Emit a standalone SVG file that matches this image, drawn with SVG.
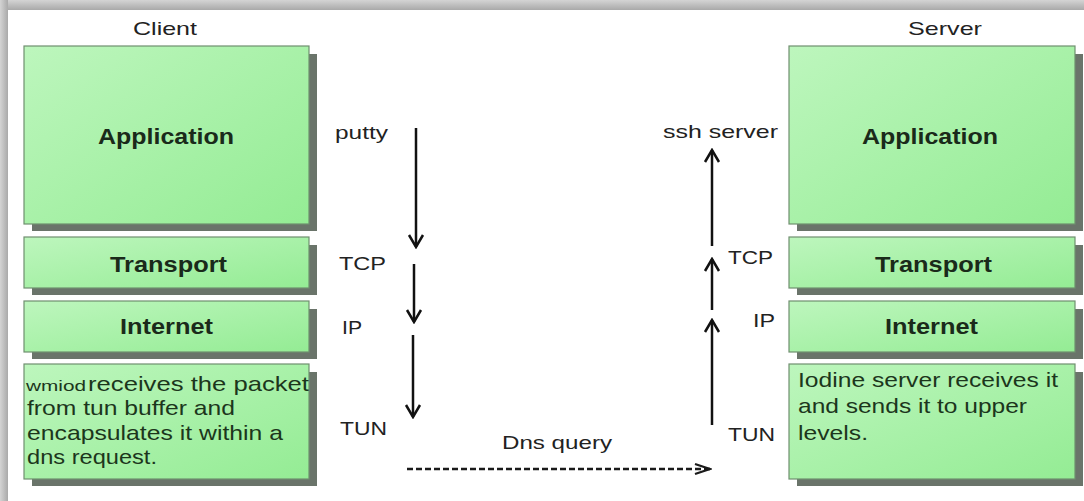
<svg xmlns="http://www.w3.org/2000/svg" width="1084" height="501" viewBox="0 0 1084 501">
<style>
.box{stroke:#6f8f6f;stroke-width:1.2;fill:url(#g)}
.sh{fill:#6a746a}
.lbl{font-family:"Liberation Sans",Arial,sans-serif;font-weight:bold;font-size:22px;fill:#1a2a1a}
.body{font-family:"Liberation Sans",Arial,sans-serif;font-size:21px;fill:#1c361c}
.out{font-family:"Liberation Sans",Arial,sans-serif;font-size:19px;fill:#222}
.arr{stroke:#111;stroke-width:2.5;fill:none;marker-end:url(#ah)}
.dash{stroke:#1a1a1a;stroke-width:2.3;fill:none;stroke-dasharray:6 3;marker-end:url(#dh)}
</style>
<defs>
<linearGradient id="g" x1="0" y1="0" x2="1" y2="1">
<stop offset="0" stop-color="#bdf6bd"/>
<stop offset="1" stop-color="#94ec94"/>
</linearGradient>
<linearGradient id="gt" x1="0" y1="0" x2="0" y2="1">
<stop offset="0" stop-color="#d4d4d4"/>
<stop offset="1" stop-color="#a9a9a9"/>
</linearGradient>
<linearGradient id="gl" x1="0" y1="0" x2="1" y2="0">
<stop offset="0" stop-color="#d4d4d4"/>
<stop offset="1" stop-color="#a9a9a9"/>
</linearGradient>
<marker id="ah" markerUnits="userSpaceOnUse" viewBox="-15 -10 17 20" refX="0" refY="0" markerWidth="17" markerHeight="20" orient="auto">
<path d="M-12,-7 L0,0 L-12,7" fill="none" stroke="#111" stroke-width="2.5"/>
</marker>
<marker id="dh" markerUnits="userSpaceOnUse" viewBox="-18 -8 20 16" refX="0" refY="0" markerWidth="20" markerHeight="16" orient="auto">
<path d="M-15,-5 L0,0 L-15,5" fill="none" stroke="#1a1a1a" stroke-width="2.3" stroke-dasharray="none"/>
</marker>
</defs>
<rect x="0" y="0" width="1084" height="501" fill="#fff"/>
<rect x="0" y="0" width="1084" height="10" fill="url(#gt)"/>
<rect x="0" y="0" width="8" height="501" fill="url(#gl)"/>

<text class="out" x="133" y="35" textLength="64" lengthAdjust="spacingAndGlyphs">Client</text>
<text class="out" x="908" y="35" textLength="74" lengthAdjust="spacingAndGlyphs">Server</text>

<g id="client-application">
<rect class="sh" x="32" y="54" width="285" height="177"/>
<rect class="box" x="24" y="46" width="285" height="178"/>
<text class="lbl" x="98" y="144" textLength="136" lengthAdjust="spacingAndGlyphs">Application</text>
</g>
<g id="client-transport">
<rect class="sh" x="32" y="245" width="285" height="50"/>
<rect class="box" x="24" y="237" width="285" height="51"/>
<text class="lbl" x="110" y="272" textLength="117" lengthAdjust="spacingAndGlyphs">Transport</text>
</g>
<g id="client-internet">
<rect class="sh" x="32" y="309" width="285" height="50"/>
<rect class="box" x="24" y="301" width="285" height="51"/>
<text class="lbl" x="120" y="334" textLength="93" lengthAdjust="spacingAndGlyphs">Internet</text>
</g>
<g id="client-tun">
<rect class="sh" x="32" y="372" width="285" height="114"/>
<rect class="box" x="24" y="364" width="285" height="115"/>
<text class="body" x="26" y="391" style="font-size:15px" textLength="60" lengthAdjust="spacingAndGlyphs">wmiod</text>
<text class="body" x="88" y="391" textLength="221" lengthAdjust="spacingAndGlyphs">receives the packet</text>
<text class="body" x="27" y="415" textLength="208" lengthAdjust="spacingAndGlyphs">from tun buffer and</text>
<text class="body" x="27" y="440" textLength="256" lengthAdjust="spacingAndGlyphs">encapsulates it within a</text>
<text class="body" x="27" y="464" textLength="130" lengthAdjust="spacingAndGlyphs">dns request.</text>
</g>

<g id="server-application">
<rect class="sh" x="797" y="54" width="286" height="177"/>
<rect class="box" x="789" y="46" width="286" height="178"/>
<text class="lbl" x="862" y="144" textLength="136" lengthAdjust="spacingAndGlyphs">Application</text>
</g>
<g id="server-transport">
<rect class="sh" x="797" y="245" width="286" height="50"/>
<rect class="box" x="789" y="237" width="286" height="51"/>
<text class="lbl" x="875" y="272" textLength="117" lengthAdjust="spacingAndGlyphs">Transport</text>
</g>
<g id="server-internet">
<rect class="sh" x="797" y="309" width="286" height="50"/>
<rect class="box" x="789" y="301" width="286" height="51"/>
<text class="lbl" x="885" y="334" textLength="93" lengthAdjust="spacingAndGlyphs">Internet</text>
</g>
<g id="server-tun">
<rect class="sh" x="797" y="372" width="286" height="114"/>
<rect class="box" x="789" y="364" width="286" height="115"/>
<text class="body" x="798" y="387" textLength="260" lengthAdjust="spacingAndGlyphs">Iodine server receives it</text>
<text class="body" x="798" y="413" textLength="229" lengthAdjust="spacingAndGlyphs">and sends it to upper</text>
<text class="body" x="798" y="440" textLength="70" lengthAdjust="spacingAndGlyphs">levels.</text>
</g>

<g id="labels">
<text class="out" x="335" y="139" textLength="53" lengthAdjust="spacingAndGlyphs">putty</text>
<text class="out" x="339" y="270" textLength="47" lengthAdjust="spacingAndGlyphs">TCP</text>
<text class="out" x="342" y="334" textLength="20" lengthAdjust="spacingAndGlyphs">IP</text>
<text class="out" x="340" y="435" textLength="47" lengthAdjust="spacingAndGlyphs">TUN</text>
<text class="out" x="663" y="138" textLength="115" lengthAdjust="spacingAndGlyphs">ssh server</text>
<text class="out" x="728" y="264" textLength="45" lengthAdjust="spacingAndGlyphs">TCP</text>
<text class="out" x="753" y="327" textLength="22" lengthAdjust="spacingAndGlyphs">IP</text>
<text class="out" x="728" y="441" textLength="47" lengthAdjust="spacingAndGlyphs">TUN</text>
<text class="out" x="502" y="449" textLength="110" lengthAdjust="spacingAndGlyphs">Dns query</text>
</g>

<g id="connectors">
<line class="arr" x1="416" y1="128" x2="416" y2="247"/>
<line class="arr" x1="414" y1="264" x2="414" y2="322"/>
<line class="arr" x1="413" y1="335" x2="413" y2="417"/>
<line class="arr" x1="712" y1="246" x2="712" y2="150"/>
<line class="arr" x1="712" y1="310" x2="712" y2="259"/>
<line class="arr" x1="712" y1="425" x2="712" y2="320"/>
<line class="dash" x1="407" y1="469" x2="710" y2="469"/>
</g>
</svg>
